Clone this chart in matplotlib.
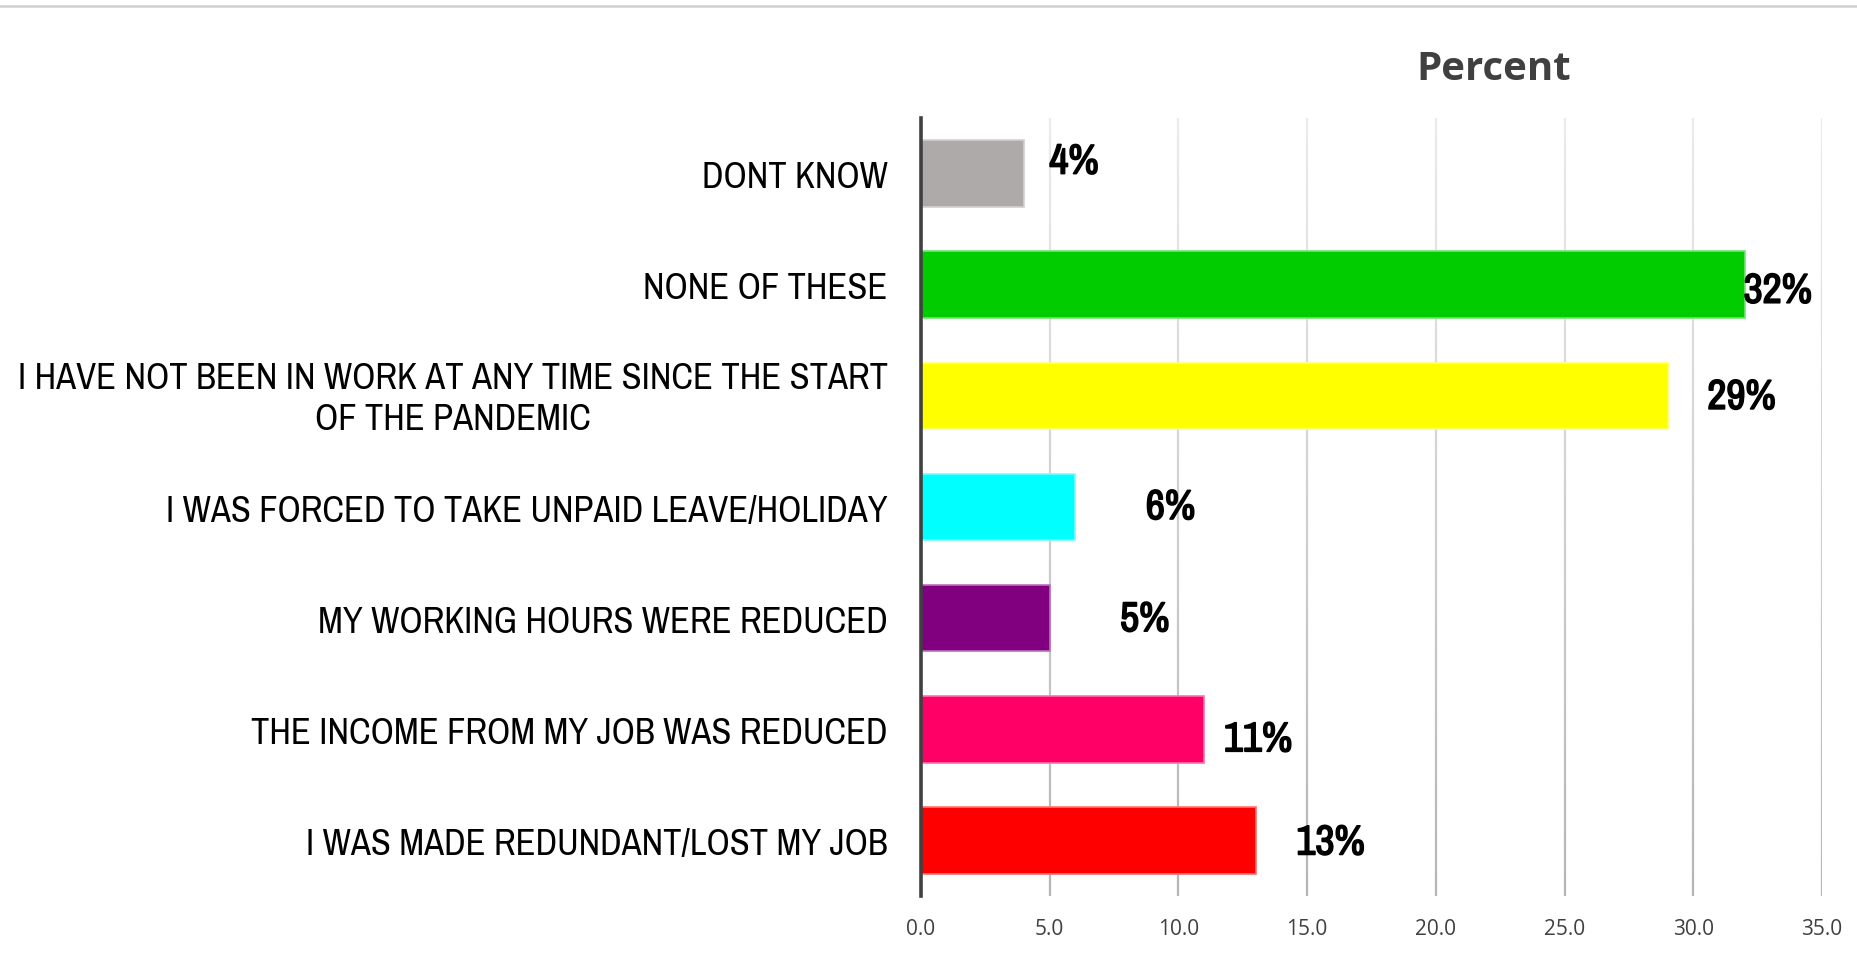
import numpy as np
import matplotlib
matplotlib.use("Agg")
import matplotlib.pyplot as plt
import matplotlib.patheffects as pe
import matplotlib.transforms as mtransforms
from matplotlib.collections import LineCollection
from matplotlib.lines import Line2D
from matplotlib.colors import to_rgb

# Survey responses, listed from top to bottom
categories = [
    "DONT KNOW",
    "NONE OF THESE",
    "I HAVE NOT BEEN IN WORK AT ANY TIME SINCE THE START\nOF THE PANDEMIC",
    "I WAS FORCED TO TAKE UNPAID LEAVE/HOLIDAY",
    "MY WORKING HOURS WERE REDUCED",
    "THE INCOME FROM MY JOB WAS REDUCED",
    "I WAS MADE REDUNDANT/LOST MY JOB",
]
percent = [4, 32, 29, 6, 5, 11, 13]
value_labels = ["4%", "32%", "29%", "6%", "5%", "11%", "13%"]
x_ticks = [0, 5, 10, 15, 20, 25, 30, 35]
x_tick_labels = ["0.0", "5.0", "10.0", "15.0", "20.0", "25.0", "30.0", "35.0"]

bar_colors = ["#aeaaaa", "#00cc00", "#ffff00", "#00ffff", "#800080", "#ff0066", "#ff0000"]

W, H = 1857, 954
fig = plt.figure(figsize=(W / 100, H / 100), dpi=100)
fig.patch.set_facecolor("white")

ax_left, ax_right = 921 / W, 1822 / W
ax_top, ax_bottom = 119 / H, 897 / H
ax = fig.add_axes([ax_left, 1 - ax_bottom, ax_right - ax_left, ax_bottom - ax_top])

narrow = ["Archivo Narrow", "DejaVu Sans"]

y = np.arange(len(categories))

def lighten(c, f=0.45):
    r, g, b = to_rgb(c)
    return (r + (1 - r) * f, g + (1 - g) * f, b + (1 - b) * f)

ax.barh(y, percent, height=0.6, color=bar_colors,
        edgecolor=[lighten(c) for c in bar_colors], linewidth=1.2, zorder=3)

ax.set_xlim(0, 35)
ax.set_ylim(len(categories) - 0.5, -0.5)

# Vertical gridlines shading from light at the top to darker at the bottom
n_seg = 60
ys = np.linspace(-0.5, len(categories) - 0.5, n_seg + 1)
top_c = np.array(to_rgb("#ebebeb"))
bot_c = np.array(to_rgb("#b5b5b5"))
for xv in x_ticks[1:]:
    segs = [[(xv, ys[i]), (xv, ys[i + 1])] for i in range(n_seg)]
    t = np.linspace(0, 1, n_seg)
    cols = [tuple(top_c + (bot_c - top_c) * ti) for ti in t]
    ax.add_collection(LineCollection(segs, colors=cols, linewidths=1.6, zorder=1))

for s in ["top", "right", "bottom"]:
    ax.spines[s].set_visible(False)
ax.spines["left"].set_color("#404040")
ax.spines["left"].set_linewidth(2.6)
ax.spines["left"].set_zorder(4)

ax.set_xticks(x_ticks)
ax.set_xticklabels(x_tick_labels, fontfamily="Open Sans", fontsize=15, color="#404040")
ax.tick_params(axis="x", length=0, pad=16)

ax.set_yticks(y)
ax.set_yticklabels(categories, fontfamily=narrow, fontsize=26.3, color="black")
ax.tick_params(axis="y", length=0, pad=24)
for lbl in ax.get_yticklabels():
    lbl.set_multialignment("center")
    lbl.set_linespacing(1.32)
    if "\n" in lbl.get_text():
        # nudge the two-line label up so both lines sit evenly about the bar
        lbl.set_transform(lbl.get_transform() +
                          mtransforms.ScaledTranslation(0, 5 / 100, fig.dpi_scale_trans))

# Value labels: offsets in pixels from the end of each bar
label_offsets = [(50, 12), (33, -6), (74, -1), (95, 0), (95, -1), (54, -10), (75, -2)]
heavy = [pe.withStroke(linewidth=1.2, foreground="black")]
for i, (v, txt) in enumerate(zip(percent, value_labels)):
    dx, dy = label_offsets[i]
    ax.annotate(txt, xy=(v, i), xytext=(dx, dy), textcoords="offset pixels",
                ha="center", va="center", fontfamily=narrow, fontweight="bold",
                fontsize=30, color="black", zorder=5, path_effects=heavy)

fig.text(1494 / W, 1 - 69 / H, "Percent", ha="center", va="center",
         fontfamily="Open Sans", fontweight="bold", fontsize=29, color="#404040")

fig.add_artist(Line2D([0, 1], [1 - 7 / H, 1 - 7 / H], transform=fig.transFigure,
                      color="#d0d0d0", linewidth=1.8))

fig.savefig("out.png", dpi=100, facecolor="white")
